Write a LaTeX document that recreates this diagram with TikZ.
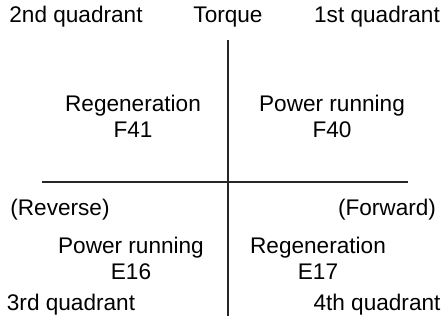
\documentclass[tikz,border=0pt]{standalone}
\usepackage{fontspec}
\setmainfont{Liberation Sans}

\begin{document}
\begin{tikzpicture}[
    x=1pt, y=-1pt,
    label/.style={inner sep=0pt, align=center, font=\fontsize{22.6}{26}\selectfont},
    axis/.style={line width=1.9pt, color=black!85},
  ]

  \useasboundingbox (0,0) rectangle (445,322);

  % quadrant names and axis title
  \node[label] (q2) at (76,17) {2nd quadrant};
  \node[label] (torque) at (228,17) {Torque};
  \node[label] (q1) at (377,17) {1st quadrant};
  \node[label] (q3) at (71,305) {3rd quadrant};
  \node[label] (q4) at (377,305) {4th quadrant};

  % operating modes
  \node[label] (regenrev) at (133,116) {Regeneration\\F41};
  \node[label] (powerfwd) at (332,116) {Power running\\F40};
  \node[label] (powerrev) at (131,258) {Power running\\E16};
  \node[label] (regenfwd) at (318,258) {Regeneration\\E17};

  % direction labels
  \node[label] (reverse) at (60,210) {(Reverse)};
  \node[label] (forward) at (387,210) {(Forward)};

  % axes
  \coordinate (top) at (228,40);
  \coordinate (bottom) at (228,316);
  \coordinate (left) at (42,182);
  \coordinate (right) at (408,182);
  \draw[axis] (top) -- (bottom);
  \draw[axis] (left) -- (right);

\end{tikzpicture}
\end{document}
